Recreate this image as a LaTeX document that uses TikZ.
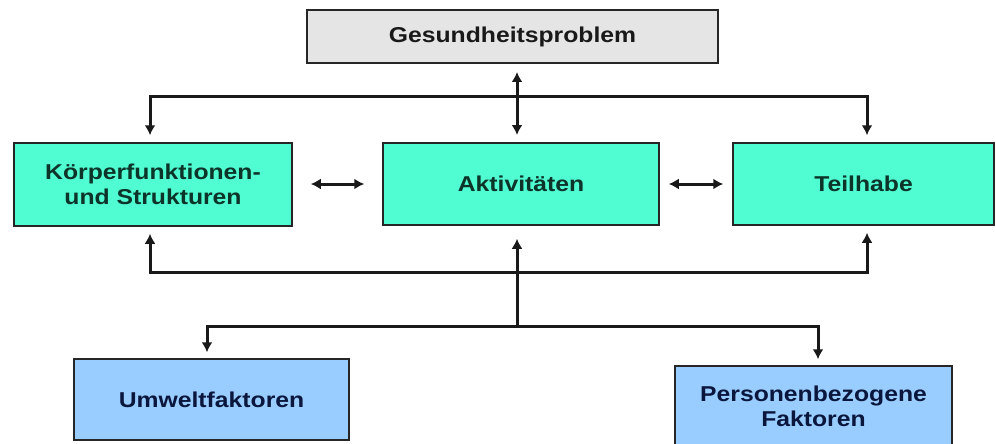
\documentclass[tikz,border=0pt]{standalone}
\usepackage{fontspec}
\setmainfont[FakeStretch=1.15]{Liberation Sans}
\usetikzlibrary{arrows.meta}
\definecolor{boxgreen}{RGB}{80,252,210}
\definecolor{boxgray}{RGB}{229,229,229}
\definecolor{boxblue}{RGB}{153,204,255}
\definecolor{txtgreen}{RGB}{12,52,40}
\definecolor{txtblue}{RGB}{10,22,60}
\begin{document}
\begin{tikzpicture}[x=1pt,y=-1pt,
  box/.style={draw=black!85, line width=1.5pt, minimum height=82pt, inner sep=0pt,
    align=center, font=\bfseries\fontsize{21.5}{25}\selectfont},
  greenbox/.style={box, fill=boxgreen, text=txtgreen},
  bluebox/.style={box, fill=boxblue, text=txtblue},
  conn/.style={line width=3pt, black!90, line join=miter},
  tip/.style={-{Latex[length=10pt,width=11pt]}},
  tips/.style={{Latex[length=10pt,width=11pt]}-{Latex[length=10pt,width=11pt]}}]
\useasboundingbox (0,0) rectangle (996,444);
\clip (0,0) rectangle (996,444);
\fill[white] (0,0) rectangle (996,444);

\node[box, fill=boxgray, text=black!90, minimum width=411pt, minimum height=53pt] (gp) at (512.5,36.5) {Gesundheitsproblem};
\node[greenbox, minimum width=278pt, minimum height=83pt] (kf) at (153,184.5) {Körperfunktionen-\\und Strukturen};
\node[greenbox, minimum width=276pt] (ak) at (521,184) {Aktivitäten};
\node[greenbox, minimum width=261pt] (th) at (863.5,184) {Teilhabe};
\node[bluebox, minimum width=275pt, minimum height=81pt] (uw) at (211.5,399.5) {Umweltfaktoren};
\node[bluebox, minimum width=277pt, minimum height=81pt] (pf) at (813.5,406.5) {Personenbezogene\\Faktoren};

% top double arrow
\coordinate (cx) at (517,0);
\draw[conn, tips] (cx |- 0,72) -- (cx |- 0,135);

% upper bus
\coordinate (tl) at (150,96);
\coordinate (tr) at (867,96);
\draw[conn, tips, shorten <=7pt, shorten >=7pt] (tl |- kf.north) -- (tl) -- (tr) -- (tr |- th.north);

% horizontal double arrows
\draw[conn, tips] ([xshift=18pt]kf.east |- 0,184) -- ([xshift=-18pt]ak.west |- 0,184);
\draw[conn, tips] ([xshift=9pt]ak.east) -- ([xshift=-9pt]th.west);

% lower bus
\coordinate (bl) at (150,272);
\coordinate (br) at (867,272);
\draw[conn, tips, shorten <=7pt, shorten >=7pt] (bl |- kf.south) -- (bl) -- (br) -- (br |- th.south);

% central vertical
\coordinate (mid) at (517,327);
\draw[conn, tip, shorten >=13pt] (mid) -- (mid |- ak.south);

% lowest bus
\coordinate (ll) at (207,326);
\coordinate (lr) at (818,326);
\draw[conn, tips, shorten <=6pt, shorten >=6pt] (ll |- uw.north) -- (ll) -- (lr) -- (lr |- pf.north);
\end{tikzpicture}
\end{document}
